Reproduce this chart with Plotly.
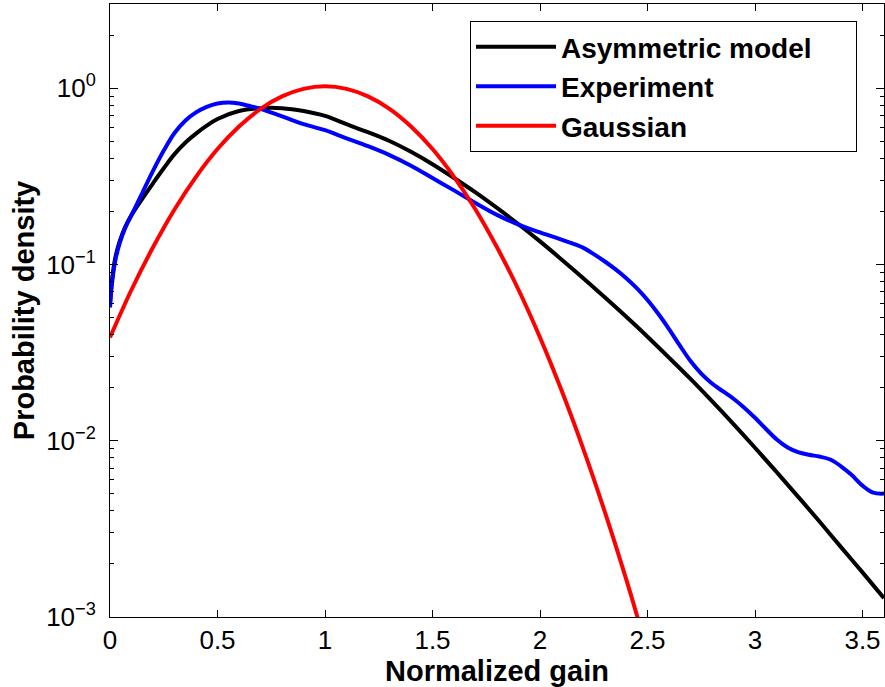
import plotly.graph_objects as go

# ---------------- data ----------------
model_x = [0.0, 0.01, 0.025, 0.045, 0.07, 0.1, 0.15, 0.2, 0.25, 0.3, 0.35, 0.4, 0.45, 0.5, 0.6,
           0.7, 0.8, 0.9, 1.0, 1.1, 1.2, 1.3, 1.4, 1.5, 1.6, 1.7, 1.8, 1.9, 2.0, 2.1, 2.2,
           2.3, 2.4, 2.5, 2.6, 2.7, 2.8, 2.9, 3.0, 3.1, 3.2, 3.3, 3.4, 3.5, 3.6]
model_y = [0.0600, 0.0832, 0.1096, 0.1349, 0.1622, 0.1905, 0.2355, 0.2884, 0.351, 0.422,
           0.490, 0.552, 0.612, 0.668, 0.741, 0.769, 0.769, 0.741, 0.695, 0.624, 0.562,
           0.501, 0.435, 0.370, 0.309, 0.256, 0.209, 0.169, 0.135, 0.1067, 0.0838, 0.0653,
           0.0506, 0.0389, 0.0296, 0.0224, 0.01675, 0.01242, 0.00912, 0.00665, 0.00482,
           0.00348, 0.00249, 0.00179, 0.00128]

exp_x = [0.0, 0.01, 0.025, 0.045, 0.07, 0.1, 0.15, 0.2, 0.25, 0.3, 0.35, 0.4, 0.45, 0.5, 0.55,
         0.6, 0.65, 0.7, 0.8, 0.9, 1.0, 1.1, 1.2, 1.3, 1.4, 1.5, 1.6, 1.7, 1.8, 1.9, 2.0,
         2.1, 2.2, 2.25, 2.3, 2.35, 2.4, 2.45, 2.5, 2.55, 2.6, 2.65, 2.7, 2.75, 2.8, 2.85,
         2.9, 2.95, 3.0, 3.05, 3.1, 3.15, 3.2, 3.25, 3.3, 3.35, 3.4, 3.45, 3.5, 3.55, 3.6]
exp_y = [0.0570, 0.0794, 0.1059, 0.1318, 0.1603, 0.1905, 0.254, 0.339, 0.442, 0.556, 0.653,
         0.728, 0.782, 0.817, 0.828, 0.817, 0.791, 0.762, 0.692, 0.624, 0.577, 0.519,
         0.468, 0.417, 0.363, 0.309, 0.263, 0.223, 0.191, 0.168, 0.152, 0.138, 0.1245,
         0.1143, 0.1042, 0.0940, 0.0838, 0.0733, 0.0628, 0.0525, 0.0430, 0.0347, 0.0283,
         0.0240, 0.0211, 0.0191, 0.0173, 0.0154, 0.01349, 0.01169, 0.01019, 0.00918,
         0.00861, 0.00832, 0.00813, 0.00782, 0.00716, 0.00638, 0.00556, 0.00507, 0.00501]

gauss_x = [0.0, 0.1, 0.2, 0.3, 0.4, 0.5, 0.6, 0.7, 0.8, 0.9, 1.0, 1.1, 1.2, 1.3, 1.4, 1.5,
           1.6, 1.7, 1.8, 1.9, 2.0, 2.1, 2.2, 2.3, 2.4, 2.45, 2.5]
gauss_y = [0.0385, 0.0718, 0.125, 0.205, 0.314, 0.451, 0.605, 0.762, 0.897, 0.99, 1.023,
           0.99, 0.897, 0.762, 0.605, 0.451, 0.314, 0.205, 0.125, 0.0718, 0.0385, 0.0193,
           0.00908, 0.0040, 0.00165, 0.00103, 0.00062]

series_names = ["Asymmetric model", "Experiment", "Gaussian"]
series_colors = ["#000000", "#0000ff", "#ff0000"]

x_ticks = [0, 0.5, 1, 1.5, 2, 2.5, 3, 3.5]
x_tick_labels = ["0", "0.5", "1", "1.5", "2", "2.5", "3", "3.5"]
y_ticks = [1e-3, 1e-2, 1e-1, 1e0]
y_tick_labels = ["10<sup>\u22123</sup>", "10<sup>\u22122</sup>", "10<sup>\u22121</sup>", "10<sup>0</sup>"]
y_minor_ticks = [m * d for d in (1e-3, 1e-2, 1e-1) for m in range(2, 10)] + [2.0, 3.0]

FONT = "Liberation Sans, Arial, Helvetica, sans-serif"
Y_RANGE = [-3, 0.477]

fig = go.Figure()
# the Gaussian goes on the overlaid axis that carries the minor ticks (same range)
for xs, ys, name, col, yax in zip([model_x, exp_x, gauss_x], [model_y, exp_y, gauss_y],
                                  series_names, series_colors, ["y", "y", "y2"]):
    label = "<b>" + name + "</b>"
    if name == "Asymmetric model":
        label += "\u00a0" * 5
    fig.add_trace(go.Scatter(x=xs, y=ys, mode="lines", name=label, yaxis=yax,
                             line=dict(color=col, width=4, shape="spline", smoothing=1.0)))

axis_common = dict(showline=True, linecolor="black", linewidth=1, mirror="ticks",
                   ticks="inside", tickcolor="black", showgrid=False, zeroline=False,
                   tickfont=dict(family=FONT, size=26, color="black"))

fig.update_layout(
    width=885, height=687,
    margin=dict(l=110, r=1, t=4, b=70),
    paper_bgcolor="white", plot_bgcolor="white",
    xaxis=dict(range=[0, 3.6], tickvals=x_ticks, ticktext=x_tick_labels, ticklen=7,
               title=dict(text="<b>Normalized gain</b>", font=dict(family=FONT, size=29, color="black"),
                          standoff=2),
               automargin=False, **axis_common),
    yaxis=dict(type="log", range=Y_RANGE, tickvals=y_ticks, ticktext=y_tick_labels, ticklen=8,
               ticklabelstandoff=8,
               title=dict(text="<b>Probability density</b>", font=dict(family=FONT, size=29, color="black"),
                          standoff=2),
               automargin=False, **axis_common),
    yaxis2=dict(type="log", range=Y_RANGE, overlaying="y", side="left",
                tickvals=y_minor_ticks, showticklabels=False, ticks="inside", ticklen=4,
                tickcolor="black", mirror="ticks", showline=True, linecolor="black",
                linewidth=1, showgrid=False, zeroline=False, automargin=False),
    legend=dict(x=0.4651, y=0.972, xanchor="left", yanchor="top",
                bgcolor="white", bordercolor="black", borderwidth=1,
                font=dict(family=FONT, size=28, color="black"),
                itemwidth=80, tracegroupgap=0),
    showlegend=True,
)

fig.write_html("out.html", config={"displayModeBar": False},
               post_script="document.body.style.margin='0';document.body.style.padding='0';")
